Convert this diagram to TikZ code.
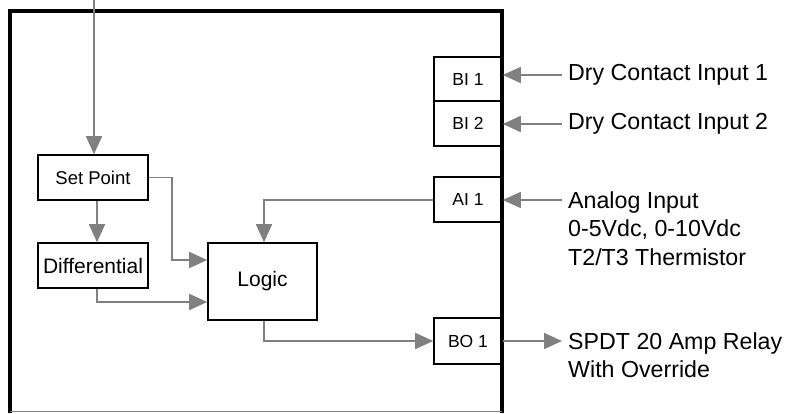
\documentclass[tikz,border=0pt]{standalone}
\usepackage{fontspec}
\setmainfont{Liberation Sans}
\usetikzlibrary{arrows.meta}
\definecolor{flowgray}{RGB}{128,128,128}
\tikzset{
	blk/.style={draw=black,line width=1.6pt,fill=white,inner sep=0pt,align=center},
	port/.style={blk,minimum width=68pt,font=\fontsize{17.5}{20}\selectfont},
	flow/.style={draw=flowgray,line width=1.7pt},
	arr/.style={flow,-{Triangle[length=18pt,width=16pt]}},
	sig/.style={inner xsep=6pt,inner ysep=0pt,align=left,font=\fontsize{23.2}{28.5}\selectfont}
}
\begin{document}
\begin{tikzpicture}[x=1pt,y=-1pt]
				\useasboundingbox (0,0) rectangle (786,413);
				% inner blocks
				\node[blk,minimum width=110pt,minimum height=45pt,font=\fontsize{18.5}{21}\selectfont] (setpt) at (93,177.5) {Set Point};
				\node[blk,minimum width=110pt,minimum height=45pt,font=\fontsize{21}{24}\selectfont] (diff) at (93,265.5) {Differential};
				\node[blk,minimum width=109pt,minimum height=77pt,font=\fontsize{21}{24}\selectfont] (logic) at (262.5,281.5) {Logic};
				% ports
				\node[port,minimum height=44pt] (bi1) at (468,79) {BI 1};
				\node[port,minimum height=45pt] (bi2) at (468,123.5) {BI 2};
				\node[port,minimum height=45pt] (ai1) at (468,199.5) {AI 1};
				\node[port,minimum height=46pt] (bo1) at (468,341) {BO 1};
				% frame
				\draw[line width=3.2pt,line cap=rect] (10,411.5)--(10,11)--(502,11)--(502,411.5);
				\draw[flowgray,line width=1pt] (10,411.5)--(502,411.5);
				% signals
				\node[sig,anchor=west] (din1) at (562,75) {Dry Contact Input 1};
				\node[sig,anchor=west] (din2) at (562,124) {Dry Contact Input 2};
				\node[sig,anchor=north west] (ain) at (562,191) {Analog Input\\0-5Vdc, 0-10Vdc\\T2/T3 Thermistor};
				\node[sig,anchor=north west] (relay) at (562,332) {SPDT 20 Amp Relay\\With Override};
				\coordinate (spin) at (94,0);
				\draw[arr] (spin)--(spin |- setpt.north);
				\draw[arr] ([xshift=4pt]setpt.south)--([xshift=4pt]diff.north);
				\draw[arr] (setpt.east)-|(172,260)--(logic.west |- 0,260);
				\draw[arr] ([xshift=4pt]diff.south)|-(logic.west |- 0,302);
				\draw[arr] (ai1.west |- 0,200)-|([xshift=1.5pt]logic.north);
				\draw[arr] ([xshift=1.5pt]logic.south)|-(bo1.west);
				\draw[arr] (din1.west)--(din1.west -| bi1.east);
				\draw[arr] (din2.west)--(din2.west -| bi2.east);
				\draw[arr] (ain.north west |- 0,200)--(ai1.east |- 0,200);
				\draw[arr] (bo1.east)--(relay.north west |- bo1.east);
			\end{tikzpicture}
\end{document}
